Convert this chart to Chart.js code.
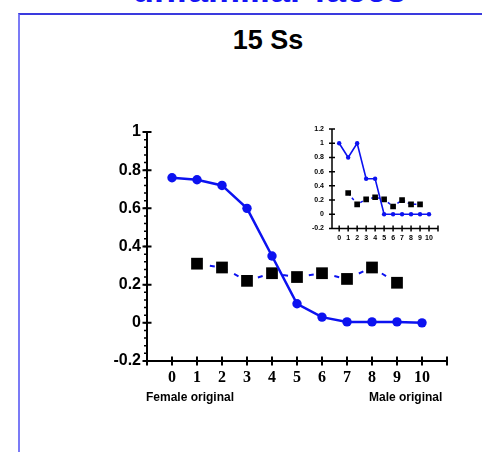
<!DOCTYPE html>
<html lang="en">
<head>
<meta charset="UTF-8">
<title>15 Ss</title>
<script src="https://cdn.jsdelivr.net/npm/chart.js"></script>
<style>
    body {
        margin: 0;
        width: 482px;
        height: 452px;
        position: relative;
        overflow: hidden;
        background: #fff;
        font-family: "Liberation Sans", Arial, sans-serif;
    }
    .heading {
        position: absolute;
        left: 69px;
        top: -28px;
        width: 400px;
        text-align: center;
        font-size: 36px;
        line-height: 36px;
        font-weight: bold;
        color: #1515f5;
    }
    .frame {
        position: absolute;
        left: 18px;
        top: 13px;
        width: 480px;
        height: 460px;
        border-top: 2px solid #3a3ade;
        border-left: 2px solid #7b7bf6;
    }
    .title {
        position: absolute;
        left: 168px;
        top: 27px;
        width: 200px;
        text-align: center;
        font-size: 27px;
        line-height: 27px;
        font-weight: bold;
        color: #000;
    }
    .end-label {
        position: absolute;
        top: 389px;
        font-size: 12px;
        line-height: 16px;
        font-weight: bold;
        color: #000;
    }
    canvas { position: absolute; }
    #mainChart { left: 0; top: 0; }
    #insetChart { left: 300px; top: 110px; }
</style>
</head>
<body>
    <div class="heading">unfamiliar faces</div>
    <div class="frame"></div>
    <div class="title">15 Ss</div>

    <canvas id="mainChart" width="482" height="452"></canvas>
    <canvas id="insetChart" width="150" height="140"></canvas>

    <div class="end-label" style="left:146px">Female original</div>
    <div class="end-label" style="left:369px">Male original</div>

<script>
    // morph steps 0..10
    const steps = [0, 1, 2, 3, 4, 5, 6, 7, 8, 9, 10];
    const stepLabels = ['0', '1', '2', '3', '4', '5', '6', '7', '8', '9', '10'];

    // main panel
    const mainCircles = [0.76, 0.75, 0.72, 0.60, 0.35, 0.10, 0.03, 0.005, 0.005, 0.005, 0.0];
    const mainSquares = [null, 0.31, 0.29, 0.22, 0.26, 0.24, 0.26, 0.23, 0.29, 0.21, null];
    const mainYTicks = [-0.2, 0, 0.2, 0.4, 0.6, 0.8, 1];
    const mainXTicks = [-1, 0, 1, 2, 3, 4, 5, 6, 7, 8, 9, 10, 11];

    // inset panel
    const insetCircles = [1.0, 0.8, 1.0, 0.5, 0.5, 0, 0, 0, 0, 0, 0];
    const insetSquares = [null, 0.30, 0.14, 0.21, 0.24, 0.21, 0.11, 0.20, 0.14, 0.14, null];
    const insetYTicks = [-0.2, 0, 0.2, 0.4, 0.6, 0.8, 1, 1.2];
    const insetXTicks = [0, 1, 2, 3, 4, 5, 6, 7, 8, 9, 10, 11];

    const BLUE = 'rgb(12, 18, 240)';

    Chart.defaults.font.family = '"Liberation Sans", Arial, sans-serif';
    Chart.defaults.color = '#000';

    function points(values) {
        return steps.map((x, i) => ({ x: x, y: values[i] })).filter(p => p.y !== null);
    }

    function yLabel(v) {
        return String(Math.round(v * 10) / 10);
    }

    // axis lines with ticks crossing the axis, like the original plot
    const crossAxes = {
        id: 'crossAxes',
        beforeDatasetsDraw(chart, args, opts) {
            const { ctx, chartArea: a, scales: { x, y } } = chart;
            ctx.save();
            ctx.strokeStyle = '#000';
            ctx.lineWidth = opts.width;
            ctx.beginPath();
            ctx.moveTo(a.left, a.top);
            ctx.lineTo(a.left, a.bottom);
            ctx.moveTo(a.left, a.bottom);
            ctx.lineTo(a.right, a.bottom);
            opts.yTicks.forEach(v => {
                const py = y.getPixelForValue(v);
                ctx.moveTo(a.left - opts.tick, py);
                ctx.lineTo(a.left + opts.tick, py);
            });
            opts.xTicks.forEach(v => {
                const px = x.getPixelForValue(v);
                ctx.moveTo(px, a.bottom - opts.tick);
                ctx.lineTo(px, a.bottom + opts.tick);
            });
            ctx.stroke();

            if (opts.minorStep) {
                ctx.lineWidth = 1.5;
                ctx.beginPath();
                for (let v = y.min; v < y.max; v += opts.minorStep) {
                    const py = y.getPixelForValue(v);
                    ctx.moveTo(a.left - opts.minorTick, py);
                    ctx.lineTo(a.left, py);
                }
                ctx.stroke();
            }
            ctx.restore();
        }
    };

    new Chart(document.getElementById('mainChart'), {
        type: 'scatter',
        data: {
            datasets: [{
                data: points(mainCircles),
                showLine: true,
                borderColor: BLUE,
                backgroundColor: BLUE,
                borderWidth: 2.5,
                pointRadius: 4.7,
                pointBorderWidth: 0
            }, {
                data: points(mainSquares),
                showLine: true,
                borderColor: BLUE,
                borderWidth: 2,
                borderDash: [5, 8],
                pointStyle: 'rect',
                pointRadius: 8.3,
                pointBackgroundColor: '#000',
                pointBorderColor: '#000',
                pointBorderWidth: 0
            }]
        },
        options: {
            responsive: false,
            animation: false,
            devicePixelRatio: 1,
            layout: { padding: { left: 0, top: 132, right: 35, bottom: 51 } },
            plugins: {
                legend: { display: false },
                tooltip: { enabled: false },
                crossAxes: { width: 2, tick: 4.5, yTicks: mainYTicks, xTicks: mainXTicks, minorStep: 0.04, minorTick: 3 }
            },
            scales: {
                x: {
                    type: 'linear',
                    min: -1,
                    max: 11,
                    grid: { display: false, drawTicks: false },
                    border: { display: false },
                    afterBuildTicks: s => { s.ticks = mainXTicks.map(v => ({ value: v })); },
                    afterFit: s => { s.height = 40; },
                    ticks: {
                        autoSkip: false,
                        maxRotation: 0,
                        padding: 7,
                        font: { family: '"Liberation Serif", "Times New Roman", serif', weight: 'bold', size: 16 },
                        callback: v => stepLabels[v] ?? ''
                    }
                },
                y: {
                    min: -0.2,
                    max: 1,
                    grid: { display: false, drawTicks: false },
                    border: { display: false },
                    afterBuildTicks: s => { s.ticks = mainYTicks.map(v => ({ value: v })); },
                    afterFit: s => { s.width = 147; },
                    ticks: {
                        autoSkip: false,
                        padding: 6,
                        font: { weight: 'bold', size: 16 },
                        callback: yLabel
                    }
                }
            }
        },
        plugins: [crossAxes]
    });

    new Chart(document.getElementById('insetChart'), {
        type: 'scatter',
        data: {
            datasets: [{
                data: points(insetCircles),
                showLine: true,
                borderColor: BLUE,
                backgroundColor: BLUE,
                borderWidth: 1.6,
                pointRadius: 2.2,
                pointBorderWidth: 0
            }, {
                data: points(insetSquares),
                showLine: true,
                borderColor: BLUE,
                borderWidth: 1.5,
                borderDash: [3, 3],
                pointStyle: 'rect',
                pointRadius: 4,
                pointBackgroundColor: '#000',
                pointBorderColor: '#000',
                pointBorderWidth: 0
            }]
        },
        options: {
            responsive: false,
            animation: false,
            devicePixelRatio: 1,
            layout: { padding: { left: 0, top: 19, right: 12, bottom: 6.5 } },
            plugins: {
                legend: { display: false },
                tooltip: { enabled: false },
                crossAxes: { width: 1.5, tick: 3, yTicks: insetYTicks, xTicks: insetXTicks }
            },
            scales: {
                x: {
                    type: 'linear',
                    min: -0.8,
                    max: 11,
                    grid: { display: false, drawTicks: false },
                    border: { display: false },
                    afterBuildTicks: s => { s.ticks = insetXTicks.map(v => ({ value: v })); },
                    afterFit: s => { s.height = 15; },
                    ticks: {
                        autoSkip: false,
                        maxRotation: 0,
                        padding: 5,
                        font: { weight: 'bold', size: 7 },
                        callback: v => stepLabels[v] ?? ''
                    }
                },
                y: {
                    min: -0.2,
                    max: 1.2,
                    grid: { display: false, drawTicks: false },
                    border: { display: false },
                    afterBuildTicks: s => { s.ticks = insetYTicks.map(v => ({ value: v })); },
                    afterFit: s => { s.width = 32; },
                    ticks: {
                        autoSkip: false,
                        padding: 8,
                        font: { weight: 'bold', size: 7 },
                        callback: yLabel
                    }
                }
            }
        },
        plugins: [crossAxes]
    });
</script>
</body>
</html>
